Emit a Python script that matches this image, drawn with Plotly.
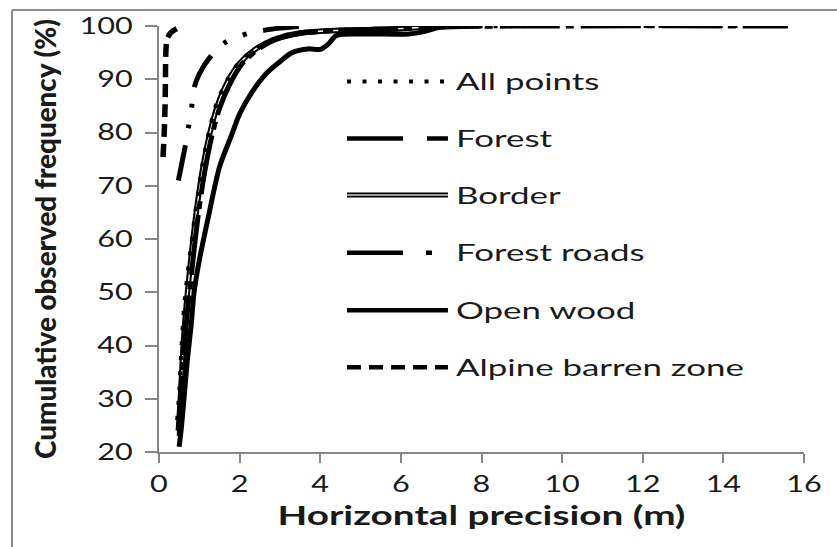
import plotly.graph_objects as go

# Cumulative observed frequency (%) against horizontal precision (m)
all_x = [0.45, 0.5, 0.56, 0.62, 0.7, 0.8, 0.9, 1.0, 1.1, 1.25, 1.43, 1.7, 2.0, 2.4, 2.84, 3.4, 4.5, 6.0, 7.5, 15.6]
all_y = [26, 31, 40, 47, 53, 59, 65, 70, 75, 80.5, 85.5, 90, 93.3, 95.8, 97.6, 98.7, 99.3, 99.6, 99.9, 100]

forest_x = [0.5, 0.55, 0.62, 0.7, 0.8, 0.9, 1.0, 1.12, 1.3, 1.5, 1.75, 2.05, 2.45, 2.9, 3.5, 4.5, 6.0, 7.5, 15.6]
forest_y = [23, 29, 38, 46, 53, 60, 66, 72, 79, 84.5, 89, 92.8, 95.6, 97.5, 98.6, 99.2, 99.5, 99.9, 100]

border_x = [0.48, 0.53, 0.6, 0.67, 0.76, 0.86, 0.96, 1.08, 1.25, 1.45, 1.7, 2.0, 2.4, 2.9, 3.5, 4.5, 6.0, 6.6, 7.2]
border_y = [24, 30, 40, 47, 54, 61, 67, 73, 79.5, 85, 89.5, 93, 95.7, 97.6, 98.7, 99.2, 99.5, 99.8, 100]

roads_x = [0.48, 0.56, 0.645, 0.73, 0.81, 0.86, 1.0, 1.27, 1.66, 2.26, 3.0, 3.6]
roads_y = [71, 74, 77.2, 81, 84.7, 88.1, 91, 94.2, 97, 98.7, 99.6, 100]

openwood_x = [0.5, 0.56, 0.62, 0.7, 0.8, 0.87, 1.0, 1.22, 1.5, 1.8, 2.0, 2.3, 2.65, 3.0, 3.3, 3.7, 4.0, 4.2, 4.4, 5.0, 6.2, 6.6, 7.0, 8.0]
openwood_y = [21, 25, 30, 37, 44, 50, 56, 64, 73.5, 79.5, 83.5, 87.5, 91, 93.3, 95, 95.7, 95.6, 96.6, 98.2, 98.5, 98.5, 99.0, 99.8, 100]

alpine_x = [0.1, 0.13, 0.15, 0.16, 0.17, 0.2, 0.3, 0.56]
alpine_y = [75.4, 80, 85, 90, 95, 97.5, 98.8, 100]

legend_names = ["All points", "Forest", "Border", "Forest roads", "Open wood", "Alpine barren zone"]

FONT = "Lato"
INK = "#1a1a1a"
AXIS = "#868686"

fig = go.Figure()


def add_curve(x, y, dash, width=5, color="black"):
    fig.add_trace(go.Scatter(
        x=x, y=y, mode="lines", showlegend=False, hoverinfo="skip",
        line=dict(color=color, width=width, dash=dash, shape="spline", smoothing=0.8),
    ))


add_curve(openwood_x, openwood_y, "solid")
add_curve(border_x, border_y, "solid", width=5.5)
add_curve(border_x, border_y, "solid", width=1.3, color="white")
add_curve(forest_x, forest_y, "60px,6px,8px,7px")
add_curve(all_x, all_y, "4px,11px", width=4)
add_curve(roads_x, roads_y, "36px,17px,4px,17px,4px,17px")
add_curve(alpine_x, alpine_y, "13px,7px", width=5.5)

# Legend drawn as line samples plus labels
leg_x0, leg_x1, lab_x = 0.2915, 0.448, 0.4575
leg_rows = [0.870, 0.736, 0.603, 0.468, 0.333, 0.199]
leg_styles = [
    [dict(color="black", width=4, dash="4px,11.5px")],
    [dict(color="black", width=4.5, dash="56px,24px,21px,30px")],
    [dict(color="black", width=5, dash="solid"), dict(color="#d0d0d0", width=1.5, dash="solid")],
    [dict(color="black", width=4.5, dash="56px,23px,6px,60px")],
    [dict(color="black", width=4.5, dash="solid")],
    [dict(color="black", width=4.5, dash="14px,8px")],
]
shapes = []
annotations = []
for name, yy, styles in zip(legend_names, leg_rows, leg_styles):
    for st in styles:
        shapes.append(dict(type="line", xref="paper", yref="paper",
                           x0=leg_x0, x1=leg_x1, y0=yy, y1=yy, line=st))
    annotations.append(dict(text=name, xref="paper", yref="paper", x=lab_x, y=yy,
                            xanchor="left", yanchor="middle", align="left", showarrow=False,
                            font=dict(family=FONT, size=22.5, color=INK)))

# Chart-area frame (top and left edges)
shapes.append(dict(type="line", xref="paper", yref="paper", x0=-0.2279, x1=1.06, y0=1.0373, y1=1.0373,
                   line=dict(color="#8c8c8c", width=2)))
shapes.append(dict(type="line", xref="paper", yref="paper", x0=-0.2279, x1=-0.2279, y0=-0.25, y1=1.0373,
                   line=dict(color="#8c8c8c", width=2)))

fig.update_layout(
    width=837, height=547,
    margin=dict(l=159, r=33, t=23, b=95, pad=0),
    paper_bgcolor="white", plot_bgcolor="white",
    shapes=shapes, annotations=annotations,
    xaxis=dict(
        range=[0, 16], tick0=0, dtick=2, showgrid=False, zeroline=False,
        showline=True, linecolor=AXIS, linewidth=1.5,
        ticks="outside", ticklen=9, tickwidth=1.5, tickcolor=AXIS,
        tickfont=dict(family=FONT, size=22.5, color=INK), ticklabelstandoff=2,
        title=dict(text="Horizontal precision (m)", standoff=10,
                   font=dict(family=FONT, size=27, color=INK, weight=700)),
    ),
    yaxis=dict(
        range=[20, 100], tick0=20, dtick=10, showgrid=False, zeroline=False,
        showline=True, linecolor=AXIS, linewidth=1.5,
        ticks="outside", ticklen=12, tickwidth=1.5, tickcolor=AXIS,
        tickfont=dict(family=FONT, size=22.5, color=INK), ticklabelstandoff=8,
        title=dict(text="Cumulative observed frequency (%)", standoff=28,
                   font=dict(family=FONT, size=29, color=INK, weight=900)),
    ),
)

# Widen horizontal labels and fit the rotated title to the wide lettering of the figure
stretch_js = """
var gd = document.getElementById('{plot_id}');
function setLen(el, len) {
  el.setAttribute('textLength', len.toFixed(1));
  el.setAttribute('lengthAdjust', 'spacingAndGlyphs');
}
try {
  gd.querySelectorAll('.xtick text, .ytick text').forEach(function (t) {
    setLen(t, t.getComputedTextLength() * 1.36);
  });
  gd.querySelectorAll('.annotation-text').forEach(function (t) {
    setLen(t, t.getComputedTextLength() * 1.55);
  });
  var xt = gd.querySelector('.xtitle');
  if (xt) setLen(xt, 408);
  var yt = gd.querySelector('.ytitle');
  if (yt) setLen(yt, 440);
} catch (e) {}
"""

fig.write_html("out.html", config={"displayModeBar": False}, post_script=stretch_js)
